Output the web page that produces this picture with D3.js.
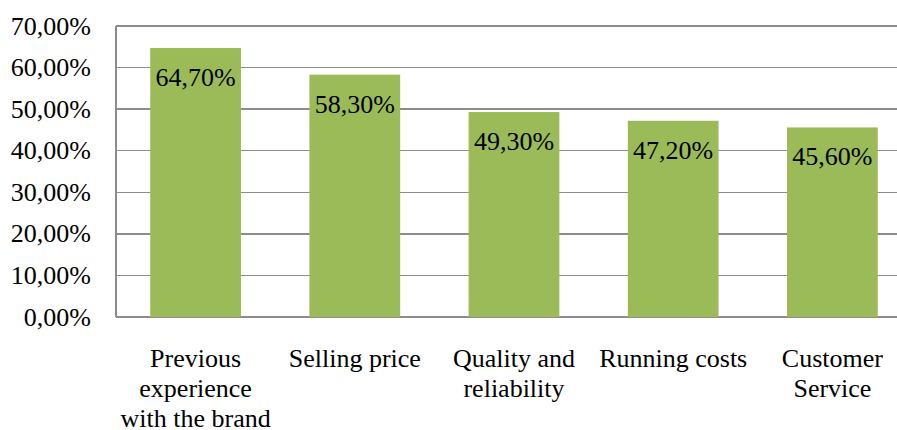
<!DOCTYPE html>
<html lang="en">
    <head>
        <meta charset="utf-8">
        <title>Purchase factors</title>
        <script type="text/javascript" src="https://d3js.org/d3.v7.min.js"></script>
        <style type="text/css">
            body { margin: 0; background: white; }
            text { font-family: "Liberation Serif", "Times New Roman", serif; fill: black; }
            .grid line { stroke: #8c8c8c; stroke-width: 1.3; shape-rendering: crispEdges; }
        </style>
    </head>
    <body>
        <script type="text/javascript">

            var categories = [
                ["Previous", "experience", "with the brand"],
                ["Selling price"],
                ["Quality and", "reliability"],
                ["Running costs"],
                ["Customer", "Service"]
            ];
            var values = [64.7, 58.3, 49.3, 47.2, 45.6];
            var yTicks = [0, 10, 20, 30, 40, 50, 60, 70];

            var w = 897, h = 430;
            var margin = {top: 26, left: 116, bottom: 113, right: -15};
            var width = w - margin.left - margin.right,
                height = h - margin.top - margin.bottom;

            var fmt = function(v) { return v.toFixed(2).replace(".", ",") + "%"; };

            var svg = d3.select("body").append("svg")
                .attr("width", w)
                .attr("height", h)
                .append("g")
                .attr("transform", "translate(" + margin.left + "," + margin.top + ")");

            var xscale = d3.scaleBand()
                .domain(d3.range(categories.length))
                .range([0, width])
                .paddingInner(0.43)
                .paddingOuter(0.215);

            var yscale = d3.scaleLinear()
                .domain([0, 70])
                .range([height, 0]);

            // gridlines
            svg.append("g")
                .attr("class", "grid")
                .selectAll("line")
                .data(yTicks)
                .enter()
                .append("line")
                .attr("x1", 0)
                .attr("x2", width)
                .attr("y1", function(d) { return yscale(d); })
                .attr("y2", function(d) { return yscale(d); });

            svg.append("g")
                .attr("class", "grid")
                .append("line")
                .attr("x1", 0).attr("x2", 0)
                .attr("y1", 0).attr("y2", height);

            // y labels
            svg.selectAll(".ylab")
                .data(yTicks)
                .enter()
                .append("text")
                .attr("class", "ylab")
                .attr("x", -25)
                .attr("y", function(d) { return yscale(d); })
                .attr("dy", "0.33em")
                .attr("text-anchor", "end")
                .style("font-size", "26px")
                .text(fmt);

            // bars
            svg.selectAll("rect")
                .data(values)
                .enter()
                .append("rect")
                .attr("x", function(d, i) { return xscale(i); })
                .attr("y", function(d) { return yscale(d); })
                .attr("width", xscale.bandwidth())
                .attr("height", function(d) { return height - yscale(d); })
                .attr("fill", "#9bbb59");

            // value labels
            svg.selectAll(".vlab")
                .data(values)
                .enter()
                .append("text")
                .attr("class", "vlab")
                .attr("x", function(d, i) { return xscale(i) + xscale.bandwidth() / 2; })
                .attr("y", function(d) { return yscale(d) + 38; })
                .attr("text-anchor", "middle")
                .style("font-size", "26px")
                .text(fmt);

            // category labels
            var cat = svg.selectAll(".xlab")
                .data(categories)
                .enter()
                .append("text")
                .attr("class", "xlab")
                .attr("text-anchor", "middle")
                .attr("transform", function(d, i) {
                    return "translate(" + (xscale(i) + xscale.bandwidth() / 2) + "," + (height + 50) + ")";
                })
                .style("font-size", "26px");

            cat.selectAll("tspan")
                .data(function(d) { return d; })
                .enter()
                .append("tspan")
                .attr("x", 0)
                .attr("y", function(d, j) { return j * 30; })
                .text(function(d) { return d; });

        </script>
    </body>
</html>
